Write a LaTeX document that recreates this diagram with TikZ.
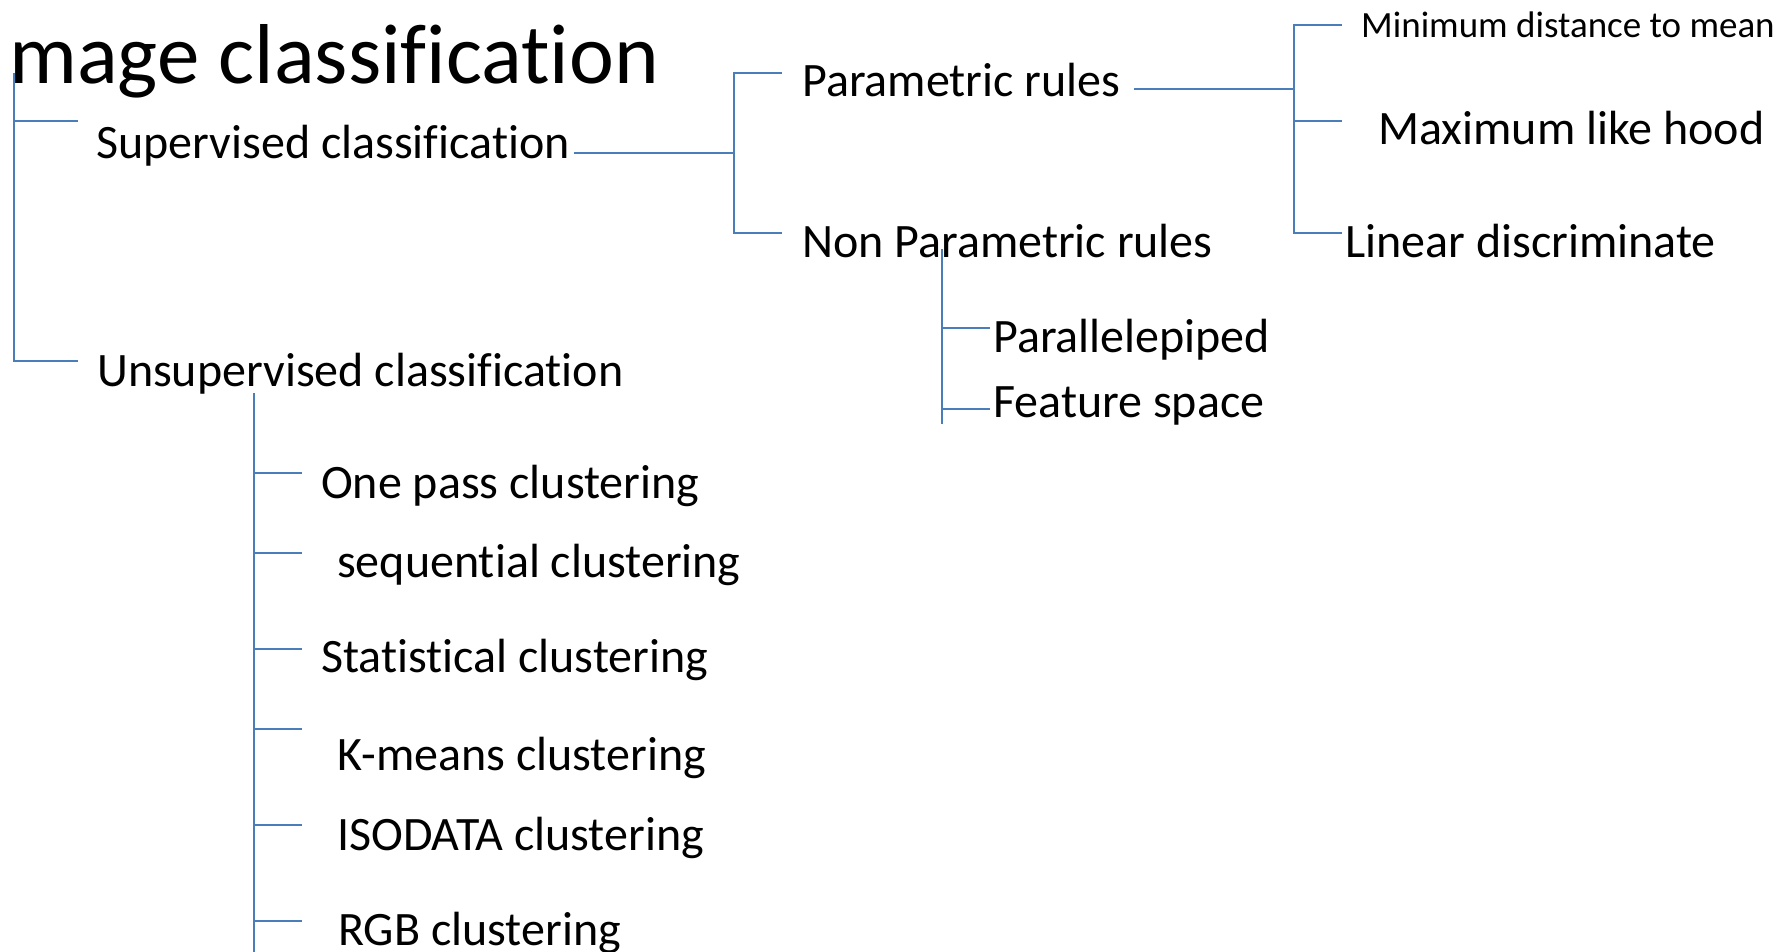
\documentclass[tikz,border=0pt]{standalone}
\usepackage{fontspec}
\setmainfont[RawFeature=-liga]{Carlito}
\definecolor{connblue}{HTML}{4A7EBB}
\begin{document}
\begin{tikzpicture}[x=1pt,y=-1pt,
  lbl/.style={anchor=base west,inner sep=0pt,font=\fontsize{48}{56}\selectfont},
  ttl/.style={anchor=base west,inner sep=0pt,font=\fontsize{85}{96}\selectfont},
  sml/.style={anchor=base west,inner sep=0pt,font=\fontsize{37}{44}\selectfont},
  conn/.style={draw=connblue,line width=1.5pt}]
\useasboundingbox (0,0) rectangle (1785,952);
% texts
\node[ttl] (title) at (9,84) {mage classification};
\node[lbl] (sup) at (96,159) {Supervised classification};
\node[lbl] (unsup) at (97,386) {Unsupervised classification};
\node[lbl] (par) at (802,97) {Parametric rules};
\node[lbl] (npar) at (802,257) {Non Parametric rules};
\node[sml] (mind) at (1361,38) {Minimum distance to mean};
\node[lbl] (maxl) at (1378,145) {Maximum like hood};
\node[lbl] (lin) at (1345,257) {Linear discriminate};
\node[lbl] (ppd) at (993,352) {Parallelepiped};
\node[lbl] (fsp) at (993,417) {Feature space};
\node[lbl] (c1) at (321,498) {One pass clustering};
\node[lbl] (c2) at (337,577) {sequential clustering};
\node[lbl] (c3) at (321,672) {Statistical clustering};
\node[lbl] (c4) at (337,770) {K-means clustering};
\node[lbl] (c5) at (337,850) {ISODATA clustering};
\node[lbl] (c6) at (338,945) {RGB clustering};
% connector points
\coordinate (rt) at (14,73);
\coordinate (rs) at (78,121);
\coordinate (ru) at (78,361);
\coordinate (s0) at (574,153);
\coordinate (s1) at (734,153);
\coordinate (sp) at (782,73);
\coordinate (sn) at (782,233);
\coordinate (p0) at (1134,89);
\coordinate (p1) at (1294,89);
\coordinate (pt) at (1294,25);
\coordinate (pm1) at (1342,25);
\coordinate (pm2) at (1342,121);
\coordinate (pm3) at (1342,233);
\coordinate (nt) at (942,249);
\coordinate (nb) at (942,424);
\coordinate (n1) at (990,328);
\coordinate (n2) at (990,409);
\coordinate (ut) at (254,393);
\coordinate (ub) at (254,952);
\coordinate (u1) at (302,473);
\coordinate (u2) at (302,553);
\coordinate (u3) at (302,649);
\coordinate (u4) at (302,729);
\coordinate (u5) at (302,825);
\coordinate (u6) at (302,921);
% connectors
\draw[conn] (rs) -| (rt);
\draw[conn] (rt) |- (ru);
\draw[conn] (s0) -- (s1);
\draw[conn] (sp) -| (s1) |- (sn);
\draw[conn] (p0) -- (p1);
\draw[conn] (pm1) -| (pt) |- (pm3);
\draw[conn] (p1) |- (pm2);
\draw[conn] (nt) -- (nb);
\draw[conn] (nt) |- (n1);
\draw[conn] (nt) |- (n2);
\draw[conn] (ut) -- (ub);
\foreach \u in {u1,u2,u3,u4,u5,u6} \draw[conn] (ut) |- (\u);
\end{tikzpicture}
\end{document}
